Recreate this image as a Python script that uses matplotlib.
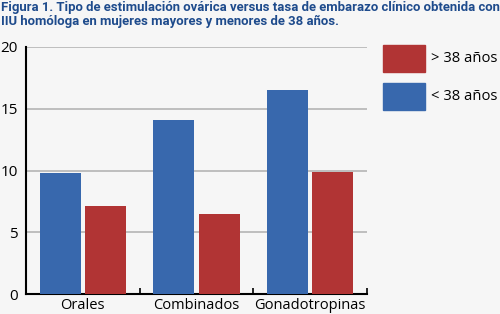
import numpy as np
import matplotlib.pyplot as plt

categories = ["Orales", "Combinados", "Gonadotropinas"]
menores_38 = [9.8, 14.1, 16.5]
mayores_38 = [7.1, 6.5, 9.9]
legend_labels = ["> 38 años", "< 38 años"]
title = ("Figura 1. Tipo de estimulación ovárica versus tasa de embarazo clínico obtenida con\n"
         "IIU homóloga en mujeres mayores y menores de 38 años.")

blue = "#3868ad"
red = "#b13434"
bg = "#f6f6f6"

fig = plt.figure(figsize=(5, 3.14), dpi=100, facecolor=bg)
ax = fig.add_axes([26 / 500, 20 / 314, 341 / 500, 247 / 314])
ax.set_facecolor(bg)

x = np.arange(len(categories))
w = 0.36
ax.bar(x - 0.2, menores_38, w, color=blue, zorder=3)
ax.bar(x + 0.2, mayores_38, w, color=red, zorder=3)

ax.set_xlim(-0.5, 2.5)
ax.set_ylim(0, 20)
ax.set_yticks([0, 5, 10, 15, 20])
ax.yaxis.grid(True, color="#b5b5b5", linewidth=1.2, zorder=0)
ax.set_xticks(x)
ax.set_xticklabels(categories, fontsize=10.5, family=["Open Sans", "DejaVu Sans"])
ax.tick_params(axis="x", length=0, pad=3)
ax.set_xticks([0.5, 1.5, 2.5], minor=True)
ax.tick_params(axis="x", which="minor", direction="in", length=4, width=1.2)
ax.tick_params(axis="y", length=0, labelsize=11, pad=6)
for lab in ax.get_yticklabels():
    lab.set_family(["Open Sans", "DejaVu Sans"])
for s in ["top", "right"]:
    ax.spines[s].set_visible(False)
for s in ["left", "bottom"]:
    ax.spines[s].set_linewidth(1.5)

fig.text(0.002, 0.997, title, ha="left", va="top", fontsize=9.45, fontweight="bold",
         color="#1e4b8c", family=["Roboto", "DejaVu Sans"], linespacing=1.1)

# legend boxes
for i, (lab, col) in enumerate(zip(legend_labels, [red, blue])):
    y0 = 1 - (72 + 38 * i) / 314
    fig.patches.append(plt.Rectangle((383 / 500, y0), 42 / 500, 27 / 314,
                                     transform=fig.transFigure, color=col))
    fig.text(431 / 500, y0 + 13 / 314, lab, ha="left", va="center", fontsize=10.6,
             family=["Open Sans", "DejaVu Sans"])

fig.savefig("out.png", dpi=100, facecolor=bg)
